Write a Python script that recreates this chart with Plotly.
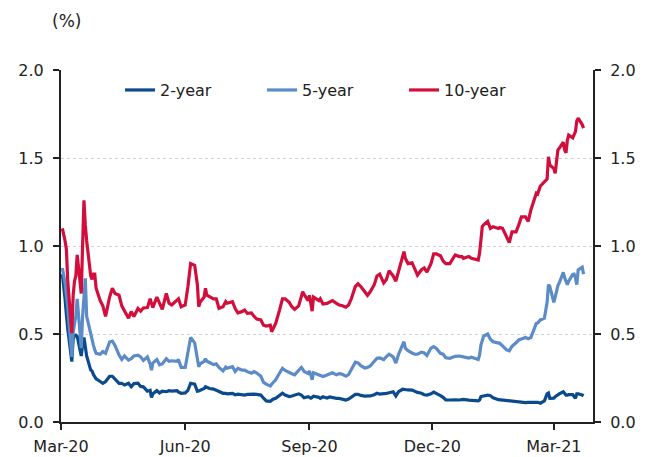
import plotly.graph_objects as go

# ---- data ----
dates = [
    # Mar 2020
    "2020-03-02", "2020-03-03", "2020-03-04", "2020-03-05", "2020-03-06", "2020-03-09", "2020-03-10",
    "2020-03-11", "2020-03-12", "2020-03-13", "2020-03-16", "2020-03-17", "2020-03-18", "2020-03-19",
    "2020-03-20", "2020-03-23", "2020-03-24", "2020-03-25", "2020-03-26", "2020-03-27", "2020-03-30",
    # Apr 2020
    "2020-04-01", "2020-04-03", "2020-04-06", "2020-04-08", "2020-04-10", "2020-04-13", "2020-04-15",
    "2020-04-17", "2020-04-20", "2020-04-22", "2020-04-24", "2020-04-27", "2020-04-29",
    # May 2020
    "2020-05-01", "2020-05-04", "2020-05-06", "2020-05-07", "2020-05-08", "2020-05-11", "2020-05-13",
    "2020-05-15", "2020-05-18", "2020-05-20", "2020-05-22", "2020-05-26", "2020-05-27", "2020-05-29",
    # Jun 2020
    "2020-06-01", "2020-06-03", "2020-06-05", "2020-06-08", "2020-06-10", "2020-06-11", "2020-06-12",
    "2020-06-15", "2020-06-16", "2020-06-17", "2020-06-19", "2020-06-22", "2020-06-24", "2020-06-26",
    "2020-06-29",
    # Jul 2020
    "2020-07-01", "2020-07-02", "2020-07-06", "2020-07-08", "2020-07-10", "2020-07-13", "2020-07-15",
    "2020-07-17", "2020-07-20", "2020-07-22", "2020-07-24", "2020-07-27", "2020-07-29", "2020-07-31",
    # Aug 2020
    "2020-08-03", "2020-08-04", "2020-08-05", "2020-08-07", "2020-08-10", "2020-08-12", "2020-08-14",
    "2020-08-17", "2020-08-19", "2020-08-21", "2020-08-24", "2020-08-26", "2020-08-27", "2020-08-28",
    "2020-08-31",
    # Sep 2020
    "2020-09-01", "2020-09-02", "2020-09-03", "2020-09-04", "2020-09-08", "2020-09-09", "2020-09-11",
    "2020-09-14", "2020-09-16", "2020-09-18", "2020-09-21", "2020-09-23", "2020-09-25", "2020-09-28",
    "2020-09-30",
    # Oct 2020
    "2020-10-02", "2020-10-05", "2020-10-07", "2020-10-09", "2020-10-12", "2020-10-14", "2020-10-16",
    "2020-10-19", "2020-10-21", "2020-10-23", "2020-10-26", "2020-10-28", "2020-10-30",
    # Nov 2020
    "2020-11-02", "2020-11-04", "2020-11-06", "2020-11-09", "2020-11-10", "2020-11-11", "2020-11-13",
    "2020-11-16", "2020-11-18", "2020-11-20", "2020-11-23", "2020-11-25", "2020-11-27", "2020-11-30",
    # Dec 2020
    "2020-12-02", "2020-12-04", "2020-12-07", "2020-12-09", "2020-12-11", "2020-12-14", "2020-12-16",
    "2020-12-18", "2020-12-21", "2020-12-23", "2020-12-24", "2020-12-28", "2020-12-30",
    # Jan 2021
    "2021-01-04", "2021-01-05", "2021-01-06", "2021-01-07", "2021-01-08", "2021-01-11", "2021-01-13",
    "2021-01-15", "2021-01-19", "2021-01-20", "2021-01-22", "2021-01-25", "2021-01-27", "2021-01-29",
    # Feb 2021
    "2021-02-01", "2021-02-03", "2021-02-05", "2021-02-08", "2021-02-10", "2021-02-12", "2021-02-16",
    "2021-02-17", "2021-02-19", "2021-02-22", "2021-02-24", "2021-02-25", "2021-02-26",
    # Mar 2021
    "2021-03-01", "2021-03-02", "2021-03-03", "2021-03-04", "2021-03-05", "2021-03-08", "2021-03-09",
    "2021-03-10", "2021-03-11", "2021-03-12", "2021-03-15", "2021-03-16", "2021-03-17", "2021-03-18",
    "2021-03-19", "2021-03-22", "2021-03-23",
]

yield_2y = [
    0.84, 0.78, 0.70, 0.61, 0.53, 0.343, 0.47, 0.49, 0.494, 0.487, 0.375, 0.44, 0.48, 0.428,
    0.375, 0.295, 0.29, 0.27, 0.255, 0.245, 0.23,
    0.22, 0.23, 0.26, 0.26, 0.245, 0.22, 0.22, 0.21, 0.22, 0.20, 0.218, 0.22, 0.202,
    0.20, 0.175, 0.18, 0.14, 0.16, 0.178, 0.165, 0.175, 0.172, 0.178, 0.176, 0.178, 0.17, 0.163,
    0.165, 0.18, 0.22, 0.215, 0.175, 0.176, 0.18, 0.19, 0.20, 0.196, 0.19, 0.187, 0.18, 0.172, 0.163,
    0.163, 0.16, 0.163, 0.155, 0.158, 0.153, 0.153, 0.157, 0.155, 0.158, 0.157, 0.153, 0.135, 0.12,
    0.118, 0.125, 0.13, 0.135, 0.155, 0.164, 0.153, 0.145, 0.148, 0.153, 0.16, 0.153, 0.145, 0.138, 0.144,
    0.138, 0.135, 0.14, 0.146, 0.14, 0.134, 0.143, 0.136, 0.142, 0.137, 0.134, 0.134, 0.131, 0.125, 0.13,
    0.14, 0.157, 0.157, 0.151, 0.147, 0.148, 0.148, 0.155, 0.163, 0.159, 0.159, 0.163, 0.166,
    0.172, 0.148, 0.172, 0.186, 0.186, 0.186, 0.182, 0.181, 0.172, 0.168, 0.163, 0.155, 0.153, 0.16,
    0.17, 0.163, 0.15, 0.14, 0.125, 0.125, 0.127, 0.126, 0.125, 0.127, 0.128, 0.124, 0.124,
    0.12, 0.125, 0.144, 0.146, 0.148, 0.153, 0.149, 0.138, 0.127, 0.126, 0.125, 0.122, 0.118, 0.117,
    0.114, 0.112, 0.113, 0.11, 0.112, 0.112, 0.115, 0.112, 0.107, 0.12, 0.16, 0.165, 0.134,
    0.135, 0.144, 0.15, 0.155, 0.16, 0.172, 0.16, 0.153, 0.153, 0.155, 0.155, 0.148, 0.135, 0.16,
    0.16, 0.153, 0.148,
]

yield_5y = [
    0.875, 0.84, 0.79, 0.72, 0.65, 0.37, 0.51, 0.56, 0.60, 0.70, 0.42, 0.60, 0.74, 0.816,
    0.60, 0.49, 0.46, 0.437, 0.41, 0.39, 0.385,
    0.40, 0.39, 0.455, 0.46, 0.435, 0.38, 0.355, 0.375, 0.352, 0.36, 0.375, 0.38, 0.37,
    0.35, 0.37, 0.33, 0.295, 0.335, 0.355, 0.325, 0.33, 0.36, 0.345, 0.348, 0.345, 0.355, 0.31,
    0.31, 0.39, 0.48, 0.45, 0.37, 0.314, 0.33, 0.345, 0.36, 0.345, 0.338, 0.326, 0.33, 0.31, 0.29,
    0.312, 0.305, 0.314, 0.287, 0.305, 0.295, 0.295, 0.286, 0.277, 0.286, 0.278, 0.26, 0.225, 0.215,
    0.205, 0.215, 0.225, 0.24, 0.28, 0.305, 0.293, 0.28, 0.274, 0.268, 0.29, 0.31, 0.30, 0.287, 0.276,
    0.29, 0.267, 0.24, 0.28, 0.27, 0.267, 0.258, 0.267, 0.274, 0.28, 0.268, 0.275, 0.272, 0.26, 0.27,
    0.30, 0.34, 0.336, 0.32, 0.307, 0.31, 0.318, 0.342, 0.362, 0.364, 0.355, 0.372, 0.385,
    0.37, 0.335, 0.385, 0.44, 0.456, 0.42, 0.405, 0.392, 0.385, 0.385, 0.397, 0.392, 0.378, 0.42,
    0.428, 0.418, 0.39, 0.385, 0.365, 0.362, 0.367, 0.373, 0.375, 0.37, 0.37, 0.363, 0.368,
    0.355, 0.38, 0.437, 0.47, 0.488, 0.50, 0.47, 0.456, 0.448, 0.447, 0.432, 0.41, 0.405, 0.43,
    0.45, 0.466, 0.472, 0.48, 0.473, 0.48, 0.56, 0.562, 0.58, 0.59, 0.68, 0.78, 0.77,
    0.68, 0.71, 0.75, 0.775, 0.79, 0.85, 0.82, 0.80, 0.78, 0.80, 0.838, 0.84, 0.82, 0.78,
    0.864, 0.88, 0.84,
]

yield_10y = [
    1.10, 1.07, 1.03, 0.98, 0.80, 0.505, 0.72, 0.80, 0.83, 0.95, 0.73, 1.00, 1.26, 1.12,
    1.03, 0.83, 0.81, 0.84, 0.84, 0.76, 0.69,
    0.66, 0.60, 0.71, 0.76, 0.73, 0.72, 0.66, 0.63, 0.59, 0.627, 0.60, 0.645, 0.63,
    0.648, 0.65, 0.70, 0.67, 0.65, 0.71, 0.67, 0.64, 0.73, 0.675, 0.665, 0.69, 0.70, 0.655,
    0.665, 0.77, 0.90, 0.89, 0.78, 0.655, 0.68, 0.71, 0.76, 0.72, 0.71, 0.70, 0.70, 0.646, 0.655,
    0.684, 0.675, 0.684, 0.645, 0.62, 0.627, 0.636, 0.617, 0.62, 0.60, 0.585, 0.58, 0.55, 0.545,
    0.55, 0.513, 0.53, 0.56, 0.64, 0.70, 0.70, 0.68, 0.655, 0.64, 0.66, 0.72, 0.74, 0.725, 0.69,
    0.72, 0.66, 0.63, 0.71, 0.69, 0.70, 0.67, 0.674, 0.684, 0.69, 0.674, 0.665, 0.662, 0.652, 0.665,
    0.70, 0.77, 0.785, 0.77, 0.74, 0.72, 0.74, 0.78, 0.83, 0.84, 0.79, 0.81, 0.86,
    0.83, 0.80, 0.86, 0.94, 0.968, 0.93, 0.90, 0.905, 0.87, 0.835, 0.865, 0.875, 0.852, 0.90,
    0.955, 0.955, 0.945, 0.915, 0.90, 0.90, 0.925, 0.949, 0.94, 0.94, 0.93, 0.94, 0.93,
    0.92, 0.96, 1.05, 1.11, 1.12, 1.14, 1.10, 1.11, 1.10, 1.105, 1.10, 1.053, 1.02, 1.08,
    1.08, 1.12, 1.165, 1.165, 1.14, 1.205, 1.30, 1.295, 1.34, 1.365, 1.38, 1.507, 1.46,
    1.44, 1.413, 1.48, 1.545, 1.555, 1.59, 1.545, 1.53, 1.60, 1.63, 1.615, 1.63, 1.65, 1.71,
    1.726, 1.69, 1.67,
]

series_names = ["2-year", "5-year", "10-year"]
series_colors = ["#0b4a8c", "#5b8cc8", "#d20f3c"]
y_ticks = [0.0, 0.5, 1.0, 1.5, 2.0]

FONT = "DejaVu Sans"
TXT = "#222222"

fig = go.Figure()
for name, vals, col in zip(series_names, [yield_2y, yield_5y, yield_10y], series_colors):
    fig.add_trace(go.Scatter(x=dates, y=vals, mode="lines", name=name,
                             line=dict(color=col, width=3.2), hoverinfo="skip"))

# invisible trace carrying the right-hand axis
fig.add_trace(go.Scatter(x=dates[:1], y=[None], yaxis="y2", showlegend=False,
                         hoverinfo="skip", mode="lines"))

axis_common = dict(
    range=[0, 2.0], tickvals=y_ticks, tickformat=".1f",
    showline=True, linecolor="#222222", linewidth=2,
    ticks="outside", ticklen=6, tickwidth=2, tickcolor="#222222",
    tickfont=dict(family=FONT, size=16, color=TXT),
    ticklabelstandoff=6,
    zeroline=False, fixedrange=True, automargin=False,
)

fig.update_layout(
    width=653, height=457,
    margin=dict(l=61, r=60, t=70, b=35),
    paper_bgcolor="white", plot_bgcolor="white",
    font=dict(family=FONT, size=16, color=TXT),
    xaxis=dict(
        type="date", range=["2020-03-01", "2021-03-30"],
        tick0="2020-03-01", dtick="M3", tickformat="%b-%y",
        showline=True, linecolor="#222222", linewidth=2,
        ticks="outside", ticklen=6, tickwidth=2, tickcolor="#222222",
        tickfont=dict(family=FONT, size=16, color=TXT),
        ticklabelstandoff=3,
        showgrid=False, zeroline=False, automargin=False,
    ),
    yaxis=dict(**axis_common, showgrid=True, gridcolor="#cfcfcf", gridwidth=1, griddash="dot",
               side="left"),
    yaxis2=dict(**axis_common, showgrid=False, overlaying="y", side="right", anchor="x"),
    legend=dict(orientation="h", x=0.111, xanchor="left", y=0.943, yanchor="middle",
                bgcolor="rgba(0,0,0,0)", font=dict(family=FONT, size=16, color=TXT),
                entrywidth=97, entrywidthmode="pixels", itemwidth=30),
    showlegend=True,
    annotations=[dict(text="(%)", xref="paper", yref="paper", x=0.0094, y=1.139,
                      xanchor="center", yanchor="middle", showarrow=False,
                      font=dict(family=FONT, size=17, color=TXT))],
)

fig.write_html("out.html")
